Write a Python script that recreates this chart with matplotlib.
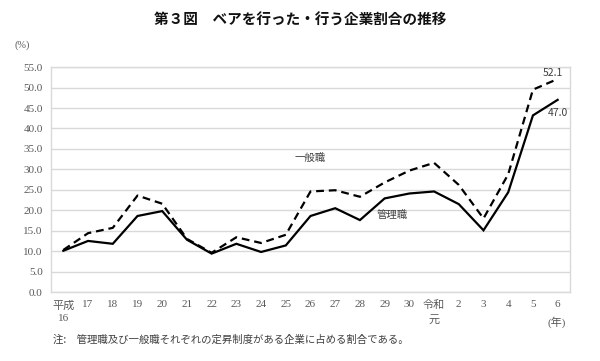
import matplotlib
matplotlib.use("Agg")
import matplotlib.pyplot as plt

plt.rcParams["font.family"] = ["Noto Sans CJK JP", "DejaVu Sans"]
SERIF = ["Liberation Serif", "Noto Sans CJK JP"]

years = ["平成\n16", "17", "18", "19", "20", "21", "22", "23", "24", "25", "26",
         "27", "28", "29", "30", "令和\n元", "2", "3", "4", "5", "6"]
kanri = [10.1, 12.5, 11.8, 18.6, 19.8, 12.8, 9.4, 11.8, 9.8, 11.4, 18.6,
         20.5, 17.6, 22.9, 24.1, 24.6, 21.5, 15.1, 24.4, 43.2, 47.0]
ippan = [10.3, 14.4, 15.7, 23.6, 21.6, 13.0, 9.6, 13.4, 12.0, 14.0, 24.6,
         24.9, 23.3, 26.8, 29.7, 31.6, 26.2, 18.0, 28.8, 49.5, 52.1]
yticks = [0, 5, 10, 15, 20, 25, 30, 35, 40, 45, 50, 55]

fig = plt.figure(figsize=(6.0, 3.61), dpi=100)
ax = fig.add_axes([0.085, 0.191, 0.865, 0.623])

x = list(range(len(years)))
ax.plot(x, kanri, color="black", linewidth=1.6, solid_joinstyle="miter")
ax.plot(x, ippan, color="black", linewidth=1.6, linestyle=(0, (3.5, 2.2)))

ax.set_xlim(-0.5, len(years) - 0.5)
ax.set_ylim(0, 55)
ax.set_yticks(yticks)
ax.set_yticklabels(["{:.1f}".format(v) for v in yticks])
ax.set_xticks(x)
ax.set_xticklabels(years, linespacing=1.5)
ax.grid(True, axis="y", color="#d9d9d9", linewidth=1.0)
ax.set_axisbelow(True)
ax.tick_params(length=0, labelsize=8, colors="#595959", pad=6)
for lbl in ax.get_xticklabels() + ax.get_yticklabels():
    lbl.set_family(SERIF)
for lbl in ax.get_xticklabels():
    lbl.set_va("top")
for s in ax.spines.values():
    s.set_color("#d9d9d9")
    s.set_linewidth(1.0)

ax.text(10.0, 32.8, "一般職", fontsize=7.5, color="#404040", ha="center", va="center")
ax.text(13.3, 18.9, "管理職", fontsize=7.5, color="#404040", ha="center", va="center")
ax.text(19.8, 53.6, "52.1", fontsize=7.5, color="#404040", ha="center", va="center")
ax.text(20.0, 43.9, "47.0", fontsize=7.5, color="#404040", ha="center", va="center")

fig.text(0.5, 0.945, "第３図　ベアを行った・行う企業割合の推移", fontsize=10.5,
         fontweight="bold", ha="center", va="center", color="#111111")
fig.text(0.037, 0.875, "(%)", fontsize=7.5, color="#595959", ha="center", va="center",
         family=SERIF)
fig.text(0.928, 0.108, "(年)", fontsize=8, color="#595959", ha="center", va="center",
         family=SERIF)
fig.text(0.088, 0.058, "注:　管理職及び一般職それぞれの定昇制度がある企業に占める割合である。",
         fontsize=7.5, color="#404040", ha="left", va="center")

fig.savefig("out.png", dpi=100)
